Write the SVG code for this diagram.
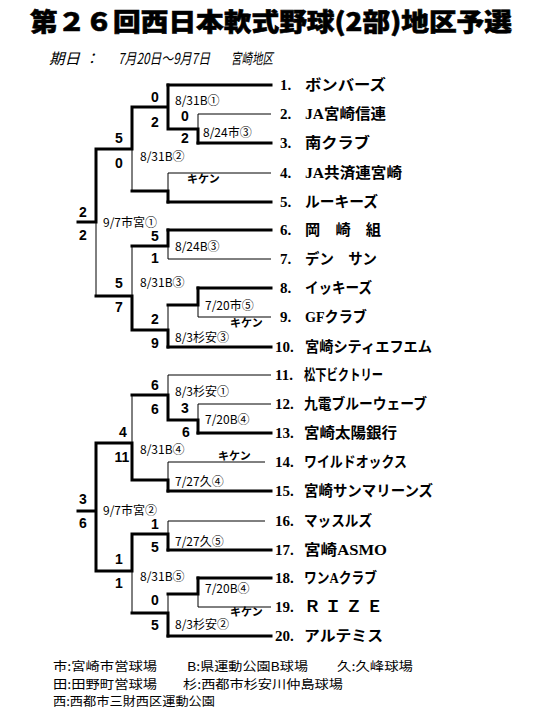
<svg xmlns="http://www.w3.org/2000/svg" width="540" height="720" viewBox="0 0 540 720">
<style>
.thin{stroke:#000;stroke-width:1;fill:none}
.thick{stroke:#000;stroke-width:3;fill:none;stroke-linecap:square;stroke-linejoin:miter}
.score{font-family:"Liberation Sans",Arial,sans-serif;font-weight:bold;font-size:14px;text-anchor:middle;fill:#000}
.date{font-family:"Noto Sans CJK JP",sans-serif;font-size:12px;fill:#000}
.kiken{font-family:"Noto Sans CJK JP",sans-serif;font-weight:bold;font-size:11px;fill:#000}
.num{font-family:"Liberation Serif","Noto Sans CJK JP",serif;font-weight:bold;font-size:15px;fill:#000}
.name{font-family:"Liberation Serif","Noto Sans CJK JP",serif;font-weight:bold;font-size:15px;fill:#000}
.title{font-family:"Noto Sans CJK JP",sans-serif;font-weight:900;font-size:25px;fill:#000;stroke:#000;stroke-width:0.6}
.sub{font-family:"Noto Sans CJK JP",sans-serif;font-style:italic;font-size:15px;fill:#000}
.legend{font-family:"Noto Sans CJK JP",sans-serif;font-size:12px;fill:#000}
</style>
<rect width="540" height="720" fill="#fff"/>
<g id="title">
<text class="title" x="30" y="31" textLength="482" lengthAdjust="spacingAndGlyphs">第２６回西日本軟式野球(2部)地区予選</text>
</g>
<g id="subtitle">
<text class="sub" x="49" y="64" textLength="31" lengthAdjust="spacingAndGlyphs">期日</text>
<text class="sub" x="84" y="64">：</text>
<text class="sub" x="118" y="64" textLength="92" lengthAdjust="spacingAndGlyphs">7月20日～9月7日</text>
<text class="sub" x="231" y="64" textLength="42" lengthAdjust="spacingAndGlyphs">宮崎地区</text>
</g>
<g id="connectors">
<path class="thin" d="M198,114H271 M168,173H271 M168,259H271 M198,317H271 M168,375H271 M198,404H271 M168,462H265 M168,521H265 M198,607H271"/>
<path class="thin" d="M198,114V129 M168,173V191 M132,149V191 M168,246V259 M198,305V317 M168,305V330 M132,246V296 M96,222V296 M198,404V420 M168,375V395 M168,462V480 M132,395V443 M168,521V534 M198,594V607 M168,594V613 M132,571V613"/>
<path class="thick" d="M168,85H271 M198,143H271 M168,202H271 M168,230H271 M198,288H271 M168,347H271 M198,433H271 M168,491H271 M168,550H271 M198,578H271 M168,636H271"/>
<path class="thick" d="M198,143V129H168 M168,85V129 M168,107H132 M168,202V191H132 M132,107V149H96 M168,230V246H132 M198,288V305H168 M168,347V330H132 M132,330V296H96 M96,149V222H78"/>
<path class="thick" d="M198,433V420H168 M168,420V395H132 M168,491V480H132 M132,480V443H96 M96,443V571 M96,511H78 M168,550V534H132 M198,578V594H168 M168,636V613H132 M132,534V571H96"/>
</g>
<g id="scores">
<text class="score" x="185" y="121">0</text><text class="score" x="185" y="143">2</text>
<text class="score" x="155" y="102">0</text><text class="score" x="155" y="127">2</text>
<text class="score" x="119" y="143">5</text><text class="score" x="119" y="168">0</text>
<text class="score" x="83" y="217">2</text><text class="score" x="83" y="240">2</text>
<text class="score" x="155" y="241">5</text><text class="score" x="155" y="263">1</text>
<text class="score" x="119" y="288">5</text><text class="score" x="119" y="312">7</text>
<text class="score" x="155" y="324">2</text><text class="score" x="155" y="348">9</text>
<text class="score" x="155" y="390">6</text><text class="score" x="155" y="414">6</text>
<text class="score" x="185" y="413">3</text><text class="score" x="186" y="437">6</text>
<text class="score" x="123" y="437">4</text><text class="score" x="122" y="462">11</text>
<text class="score" x="83" y="504">3</text><text class="score" x="83" y="528">6</text>
<text class="score" x="155" y="529">1</text><text class="score" x="155" y="552">5</text>
<text class="score" x="119" y="564">1</text><text class="score" x="119" y="588">1</text>
<text class="score" x="155" y="605">0</text><text class="score" x="155" y="630">5</text>
</g>
<g id="dates">
<text class="date" x="175" y="105">8/31B①</text>
<text class="date" x="203" y="137">8/24市③</text>
<text class="date" x="140" y="161">8/31B②</text>
<text class="date" x="103" y="227">9/7市宮①</text>
<text class="date" x="175" y="251">8/24B③</text>
<text class="date" x="140" y="287">8/31B③</text>
<text class="date" x="205" y="310">7/20市⑤</text>
<text class="date" x="175" y="342">8/3杉安③</text>
<text class="date" x="175" y="396">8/3杉安①</text>
<text class="date" x="205" y="424">7/20B④</text>
<text class="date" x="140" y="454">8/31B④</text>
<text class="date" x="175" y="486">7/27久④</text>
<text class="date" x="103" y="515">9/7市宮②</text>
<text class="date" x="175" y="546">7/27久⑤</text>
<text class="date" x="140" y="581">8/31B⑤</text>
<text class="date" x="205" y="593">7/20B④</text>
<text class="date" x="175" y="629">8/3杉安②</text>
<text class="kiken" x="187" y="183">キケン</text>
<text class="kiken" x="230" y="327">キケン</text>
<text class="kiken" x="218" y="460">キケン</text>
<text class="kiken" x="230" y="616">キケン</text>
</g>
<g id="team1"><text class="num" x="280" y="90">1.</text><text class="name" x="305" y="90" textLength="81" lengthAdjust="spacingAndGlyphs">ボンバーズ</text></g>
<g id="team2"><text class="num" x="280" y="119">2.</text><text class="name" x="305" y="119" textLength="81" lengthAdjust="spacingAndGlyphs">JA宮崎信連</text></g>
<g id="team3"><text class="num" x="280" y="148">3.</text><text class="name" x="305" y="148" textLength="65" lengthAdjust="spacingAndGlyphs">南クラブ</text></g>
<g id="team4"><text class="num" x="280" y="178">4.</text><text class="name" x="305" y="178" textLength="97" lengthAdjust="spacingAndGlyphs">JA共済連宮崎</text></g>
<g id="team5"><text class="num" x="280" y="207">5.</text><text class="name" x="305" y="207" textLength="73" lengthAdjust="spacingAndGlyphs">ルーキーズ</text></g>
<g id="team6"><text class="num" x="280" y="235">6.</text><text class="name" x="305" y="235" textLength="76" lengthAdjust="spacingAndGlyphs">岡　崎　組</text></g>
<g id="team7"><text class="num" x="280" y="264">7.</text><text class="name" x="305" y="264" textLength="72" lengthAdjust="spacingAndGlyphs">デン　サン</text></g>
<g id="team8"><text class="num" x="280" y="293">8.</text><text class="name" x="305" y="293" textLength="67" lengthAdjust="spacingAndGlyphs">イッキーズ</text></g>
<g id="team9"><text class="num" x="280" y="322">9.</text><text class="name" x="305" y="322" textLength="62" lengthAdjust="spacingAndGlyphs">GFクラブ</text></g>
<g id="team10"><text class="num" x="275" y="352">10.</text><text class="name" x="305" y="352" textLength="127" lengthAdjust="spacingAndGlyphs">宮崎シティエフエム</text></g>
<g id="team11"><text class="num" x="275" y="380">11.</text><text class="name" x="304" y="380" textLength="79" lengthAdjust="spacingAndGlyphs">松下ビクトリー</text></g>
<g id="team12"><text class="num" x="275" y="409">12.</text><text class="name" x="304" y="409" textLength="123" lengthAdjust="spacingAndGlyphs">九電ブルーウェーブ</text></g>
<g id="team13"><text class="num" x="275" y="438">13.</text><text class="name" x="304" y="438" textLength="93" lengthAdjust="spacingAndGlyphs">宮崎太陽銀行</text></g>
<g id="team14"><text class="num" x="275" y="467">14.</text><text class="name" x="304" y="467" textLength="103" lengthAdjust="spacingAndGlyphs">ワイルドオックス</text></g>
<g id="team15"><text class="num" x="275" y="496">15.</text><text class="name" x="304" y="496" textLength="129" lengthAdjust="spacingAndGlyphs">宮崎サンマリーンズ</text></g>
<g id="team16"><text class="num" x="275" y="526">16.</text><text class="name" x="304" y="526" textLength="68" lengthAdjust="spacingAndGlyphs">マッスルズ</text></g>
<g id="team17"><text class="num" x="275" y="555">17.</text><text class="name" x="304" y="555" textLength="83" lengthAdjust="spacingAndGlyphs">宮崎ASMO</text></g>
<g id="team18"><text class="num" x="275" y="583">18.</text><text class="name" x="304" y="583" textLength="73" lengthAdjust="spacingAndGlyphs">ワンAクラブ</text></g>
<g id="team19"><text class="num" x="275" y="612">19.</text><text class="name" x="304" y="612" textLength="79" lengthAdjust="spacingAndGlyphs">Ｒ Ｉ Ｚ Ｅ</text></g>
<g id="team20"><text class="num" x="275" y="641">20.</text><text class="name" x="304" y="641" textLength="79" lengthAdjust="spacingAndGlyphs">アルテミス</text></g>
<g id="legend">
<text class="legend" x="53" y="671" textLength="104" lengthAdjust="spacingAndGlyphs">市:宮崎市営球場</text>
<text class="legend" x="187" y="671" textLength="121" lengthAdjust="spacingAndGlyphs">B:県運動公園B球場</text>
<text class="legend" x="337" y="671" textLength="76" lengthAdjust="spacingAndGlyphs">久:久峰球場</text>
<text class="legend" x="53" y="688.5" textLength="104" lengthAdjust="spacingAndGlyphs">田:田野町営球場</text>
<text class="legend" x="183" y="688.5" textLength="160" lengthAdjust="spacingAndGlyphs">杉:西都市杉安川仲島球場</text>
<text class="legend" x="53" y="706" textLength="162" lengthAdjust="spacingAndGlyphs">西:西都市三財西区運動公園</text>
</g>
</svg>
